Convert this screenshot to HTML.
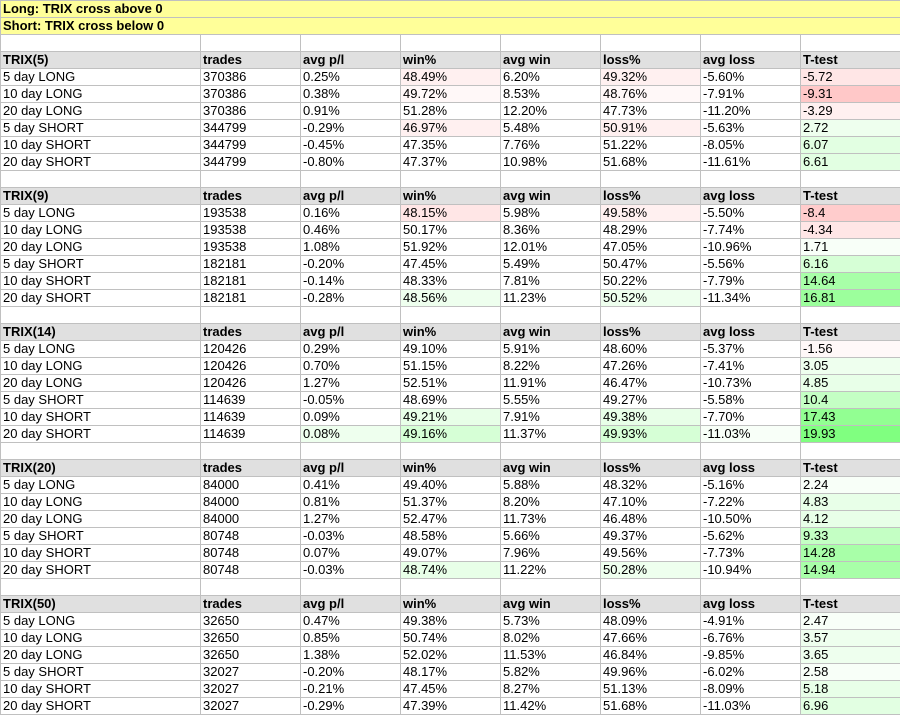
<!DOCTYPE html>
<html><head><meta charset="utf-8"><style>
body{margin:0;background:#fff;}
table{border-collapse:collapse;table-layout:fixed;width:900px;}
td{height:16px;padding:0 0 0 2px;line-height:16px;border:1px solid #c0c0c0;font-family:"Liberation Sans",Arial,sans-serif;font-size:13px;white-space:nowrap;overflow:hidden;color:#000;}
tr.y td{background:#ffff99;font-weight:bold;}
tr.h td{background:#e0e0e0;font-weight:bold;}
.pa{background:#fff0f0}.pb{background:#ffe6e6}.pc{background:#ffdcdc}.pd{background:#ffc8c8}.pe{background:#ffcccc}.pf{background:#fff8f8}
.ga{background:#f8fff8}.gb{background:#eeffee}.gc{background:#e2ffe2}.gd{background:#d6ffd6}.ge{background:#c4ffc4}.gf{background:#a8ffa8}.gg{background:#9cff9c}.gh{background:#92ff92}.gi{background:#80ff80}.gj{background:#e8ffe8}
</style></head><body>
<table>
<colgroup><col style="width:200px"><col style="width:100px"><col style="width:100px"><col style="width:100px"><col style="width:100px"><col style="width:100px"><col style="width:100px"><col style="width:100px"></colgroup>
<tr class="y"><td colspan="8">Long: TRIX cross above 0</td></tr>
<tr class="y"><td colspan="8">Short: TRIX cross below 0</td></tr>
<tr><td></td><td></td><td></td><td></td><td></td><td></td><td></td><td></td></tr>
<tr class="h"><td>TRIX(5)</td><td>trades</td><td>avg p/l</td><td>win%</td><td>avg win</td><td>loss%</td><td>avg loss</td><td>T-test</td></tr>
<tr><td>5 day LONG</td><td>370386</td><td>0.25%</td><td class="pa">48.49%</td><td>6.20%</td><td class="pa">49.32%</td><td>-5.60%</td><td class="pb">-5.72</td></tr>
<tr><td>10 day LONG</td><td>370386</td><td>0.38%</td><td class="pf">49.72%</td><td>8.53%</td><td class="pf">48.76%</td><td>-7.91%</td><td class="pd">-9.31</td></tr>
<tr><td>20 day LONG</td><td>370386</td><td>0.91%</td><td>51.28%</td><td>12.20%</td><td>47.73%</td><td>-11.20%</td><td class="pa">-3.29</td></tr>
<tr><td>5 day SHORT</td><td>344799</td><td>-0.29%</td><td class="pa">46.97%</td><td>5.48%</td><td class="pa">50.91%</td><td>-5.63%</td><td class="gb">2.72</td></tr>
<tr><td>10 day SHORT</td><td>344799</td><td>-0.45%</td><td>47.35%</td><td>7.76%</td><td>51.22%</td><td>-8.05%</td><td class="gc">6.07</td></tr>
<tr><td>20 day SHORT</td><td>344799</td><td>-0.80%</td><td>47.37%</td><td>10.98%</td><td>51.68%</td><td>-11.61%</td><td class="gc">6.61</td></tr>
<tr><td></td><td></td><td></td><td></td><td></td><td></td><td></td><td></td></tr>
<tr class="h"><td>TRIX(9)</td><td>trades</td><td>avg p/l</td><td>win%</td><td>avg win</td><td>loss%</td><td>avg loss</td><td>T-test</td></tr>
<tr><td>5 day LONG</td><td>193538</td><td>0.16%</td><td class="pb">48.15%</td><td>5.98%</td><td class="pa">49.58%</td><td>-5.50%</td><td class="pe">-8.4</td></tr>
<tr><td>10 day LONG</td><td>193538</td><td>0.46%</td><td>50.17%</td><td>8.36%</td><td>48.29%</td><td>-7.74%</td><td class="pb">-4.34</td></tr>
<tr><td>20 day LONG</td><td>193538</td><td>1.08%</td><td>51.92%</td><td>12.01%</td><td>47.05%</td><td>-10.96%</td><td class="ga">1.71</td></tr>
<tr><td>5 day SHORT</td><td>182181</td><td>-0.20%</td><td>47.45%</td><td>5.49%</td><td>50.47%</td><td>-5.56%</td><td class="gd">6.16</td></tr>
<tr><td>10 day SHORT</td><td>182181</td><td>-0.14%</td><td>48.33%</td><td>7.81%</td><td>50.22%</td><td>-7.79%</td><td class="gf">14.64</td></tr>
<tr><td>20 day SHORT</td><td>182181</td><td>-0.28%</td><td class="gb">48.56%</td><td>11.23%</td><td class="gb">50.52%</td><td>-11.34%</td><td class="gg">16.81</td></tr>
<tr><td></td><td></td><td></td><td></td><td></td><td></td><td></td><td></td></tr>
<tr class="h"><td>TRIX(14)</td><td>trades</td><td>avg p/l</td><td>win%</td><td>avg win</td><td>loss%</td><td>avg loss</td><td>T-test</td></tr>
<tr><td>5 day LONG</td><td>120426</td><td>0.29%</td><td>49.10%</td><td>5.91%</td><td>48.60%</td><td>-5.37%</td><td class="pf">-1.56</td></tr>
<tr><td>10 day LONG</td><td>120426</td><td>0.70%</td><td>51.15%</td><td>8.22%</td><td>47.26%</td><td>-7.41%</td><td class="gb">3.05</td></tr>
<tr><td>20 day LONG</td><td>120426</td><td>1.27%</td><td>52.51%</td><td>11.91%</td><td>46.47%</td><td>-10.73%</td><td class="gj">4.85</td></tr>
<tr><td>5 day SHORT</td><td>114639</td><td>-0.05%</td><td>48.69%</td><td>5.55%</td><td>49.27%</td><td>-5.58%</td><td class="ge">10.4</td></tr>
<tr><td>10 day SHORT</td><td>114639</td><td>0.09%</td><td class="gj">49.21%</td><td>7.91%</td><td class="gj">49.38%</td><td>-7.70%</td><td class="gh">17.43</td></tr>
<tr><td>20 day SHORT</td><td>114639</td><td class="gb">0.08%</td><td class="gd">49.16%</td><td>11.37%</td><td class="gd">49.93%</td><td class="ga">-11.03%</td><td class="gi">19.93</td></tr>
<tr><td></td><td></td><td></td><td></td><td></td><td></td><td></td><td></td></tr>
<tr class="h"><td>TRIX(20)</td><td>trades</td><td>avg p/l</td><td>win%</td><td>avg win</td><td>loss%</td><td>avg loss</td><td>T-test</td></tr>
<tr><td>5 day LONG</td><td>84000</td><td>0.41%</td><td>49.40%</td><td>5.88%</td><td>48.32%</td><td>-5.16%</td><td class="ga">2.24</td></tr>
<tr><td>10 day LONG</td><td>84000</td><td>0.81%</td><td>51.37%</td><td>8.20%</td><td>47.10%</td><td>-7.22%</td><td class="gj">4.83</td></tr>
<tr><td>20 day LONG</td><td>84000</td><td>1.27%</td><td>52.47%</td><td>11.73%</td><td>46.48%</td><td>-10.50%</td><td class="gj">4.12</td></tr>
<tr><td>5 day SHORT</td><td>80748</td><td>-0.03%</td><td>48.58%</td><td>5.66%</td><td>49.37%</td><td>-5.62%</td><td class="ge">9.33</td></tr>
<tr><td>10 day SHORT</td><td>80748</td><td>0.07%</td><td>49.07%</td><td>7.96%</td><td>49.56%</td><td>-7.73%</td><td class="gf">14.28</td></tr>
<tr><td>20 day SHORT</td><td>80748</td><td>-0.03%</td><td class="gj">48.74%</td><td>11.22%</td><td class="gb">50.28%</td><td>-10.94%</td><td class="gf">14.94</td></tr>
<tr><td></td><td></td><td></td><td></td><td></td><td></td><td></td><td></td></tr>
<tr class="h"><td>TRIX(50)</td><td>trades</td><td>avg p/l</td><td>win%</td><td>avg win</td><td>loss%</td><td>avg loss</td><td>T-test</td></tr>
<tr><td>5 day LONG</td><td>32650</td><td>0.47%</td><td>49.38%</td><td>5.73%</td><td>48.09%</td><td>-4.91%</td><td class="ga">2.47</td></tr>
<tr><td>10 day LONG</td><td>32650</td><td>0.85%</td><td>50.74%</td><td>8.02%</td><td>47.66%</td><td>-6.76%</td><td class="gb">3.57</td></tr>
<tr><td>20 day LONG</td><td>32650</td><td>1.38%</td><td>52.02%</td><td>11.53%</td><td>46.84%</td><td>-9.85%</td><td class="gb">3.65</td></tr>
<tr><td>5 day SHORT</td><td>32027</td><td>-0.20%</td><td>48.17%</td><td>5.82%</td><td>49.96%</td><td>-6.02%</td><td class="ga">2.58</td></tr>
<tr><td>10 day SHORT</td><td>32027</td><td>-0.21%</td><td>47.45%</td><td>8.27%</td><td>51.13%</td><td>-8.09%</td><td class="gj">5.18</td></tr>
<tr><td>20 day SHORT</td><td>32027</td><td>-0.29%</td><td>47.39%</td><td>11.42%</td><td>51.68%</td><td>-11.03%</td><td class="gc">6.96</td></tr>
</table>
</body></html>
